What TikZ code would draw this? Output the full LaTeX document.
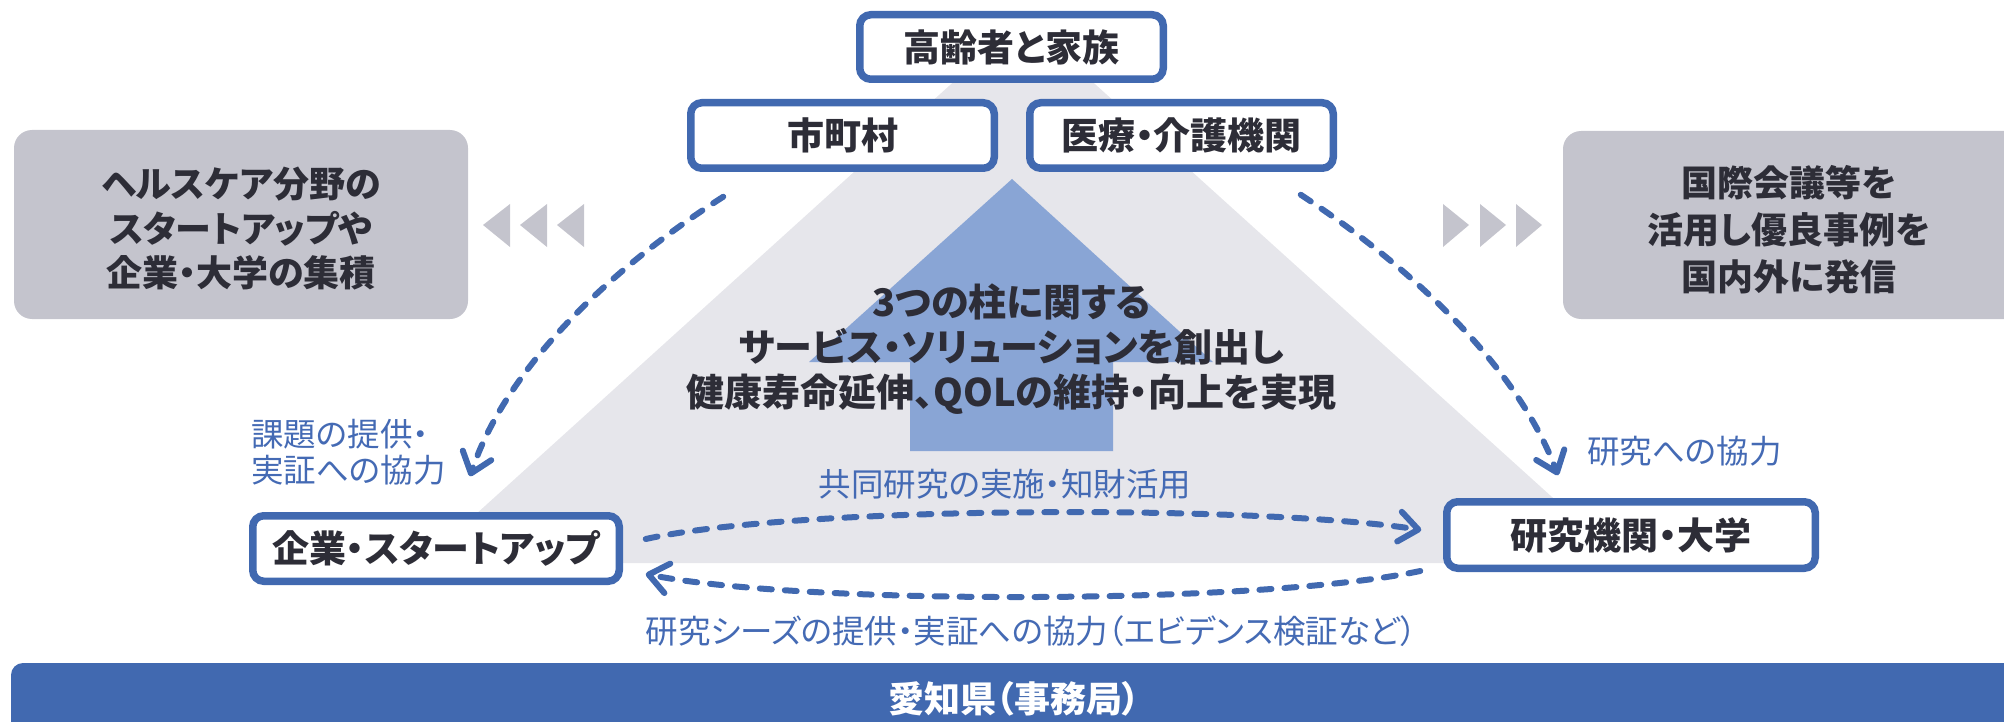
\documentclass[tikz,border=0pt]{standalone}
\usepackage{fontspec}
\setmainfont{Noto Sans CJK JP}[RawFeature=+palt]
\usetikzlibrary{arrows.meta}
\definecolor{myblue}{RGB}{65,105,176}
\definecolor{lblue}{RGB}{137,165,213}
\definecolor{tri}{RGB}{230,230,235}
\definecolor{greybox}{RGB}{196,196,205}
\definecolor{txt}{RGB}{45,45,55}
\definecolor{lab}{RGB}{68,106,180}
\begin{document}
\begin{tikzpicture}[x=1pt,y=-1pt,
  box/.style={draw=myblue, line width=7.5pt, fill=white, rounded corners=11pt, inner sep=0pt,
    font=\fontsize{37}{44}\selectfont\bfseries, text=txt},
  gbox/.style={fill=greybox, rounded corners=18pt, inner sep=0pt, align=center,
    font=\fontsize{36}{44}\selectfont\bfseries, text=txt},
  lbl/.style={text=lab, font=\fontsize{32.5}{36}\selectfont, inner sep=0pt},
  dsh/.style={draw=myblue, line width=6pt, line cap=round, dash pattern=on 12pt off 13pt,
    -{Straight Barb[length=19pt,width=30pt,line width=6pt,round]}},
  chev/.style={fill=greybox}
]
\useasboundingbox (0,0) rectangle (2004,722);
% background triangle
\fill[tri] (1023,19) -- (1625,563) -- (422,563) -- cycle;
% up arrow
\fill[lblue] (1012,179) -- (1213,362) -- (1113,362) -- (1113,451) -- (910,451) -- (910,362) -- (809,362) -- cycle;
\node[align=center, font=\fontsize{38}{45}\selectfont\bfseries, text=txt] (main) at (1011.5,349)
  {3つの柱に関する\\サービス・ソリューションを創出し\\健康寿命延伸、QOLの維持・向上を実現};
% boxes
\node[box, minimum width=303.5pt, minimum height=64.5pt] (top) at (1011.5,47) {高齢者と家族};
\node[box, minimum width=303.5pt, minimum height=65.5pt] (shi) at (842.5,135.5) {市町村};
\node[box, minimum width=303.5pt, minimum height=65.5pt] (iryo) at (1181.5,135.5) {医療・介護機関};
\node[box, minimum width=366.5pt, minimum height=65.5pt] (comp) at (436,548.5) {企業・スタートアップ};
\node[box, minimum width=368.5pt, minimum height=66.5pt] (ken) at (1631,535) {研究機関・大学};
% grey boxes
\node[gbox, minimum width=454pt, minimum height=189pt] (lg) at (241,224.5) {};
\node[align=center, font=\fontsize{36}{44.5}\selectfont\bfseries, text=txt] (lgt) at (241,229)
  {ヘルスケア分野の\\スタートアップや\\企業・大学の集積};
\node[gbox, minimum width=461pt, minimum height=188pt] (rg) at (1793.5,225) {};
\node[align=center, font=\fontsize{36}{47}\selectfont\bfseries, text=txt] (rgt) at (1789,230)
  {国際会議等を\\活用し優良事例を\\国内外に発信};
% chevrons
\foreach \i in {483,520,557} \fill[chev] (\i,225) -- (\i+27,204) -- (\i+27,247) -- cycle;
\foreach \i in {1443,1480,1516} \fill[chev] (\i,204) -- (\i+26,225) -- (\i,247) -- cycle;
% connector end points
\coordinate (as) at ([shift={(36.25,24.75)}]shi.south west);
\coordinate (ae) at ([shift={(34,-35.75)}]comp.north);
\coordinate (bs) at ([shift={(-36.25,22.75)}]iryo.south east);
\coordinate (be) at ([shift={(-73,-22.75)}]ken.north);
\coordinate (cs) at ([shift={(22.75,-9.5)}]comp.east);
\coordinate (ce) at ([shift={(-21.75,-5)}]ken.west);
\coordinate (ds) at ([shift={(-22.75,36)}]ken.west);
\coordinate (de) at ([shift={(22.75,25.5)}]comp.east);
\draw[dsh] (as) .. controls (607,271) and (506,369) .. (ae);
\draw[dsh] (bs) .. controls (1417,271) and (1518,369) .. (be);
\draw[dsh] (cs) .. controls (800,505) and (1260,505) .. (ce);
\draw[dsh] (ds) .. controls (1260,605) and (800,605) .. (de);
% labels
\node[lbl, align=left, anchor=west] (l1) at (251,452) {課題の提供・\\実証への協力};
\node[lbl, anchor=west] (l2) at (1587,451) {研究への協力};
\node[lbl] (l3) at (1005,484) {共同研究の実施・知財活用};
\node[lbl] (l4) at (1031,631) {研究シーズの提供・実証への協力（エビデンス検証など）};
% bottom bar
\fill[myblue, rounded corners=12pt] (11,663) rectangle (2040,760);
\node[text=white, font=\fontsize{36}{44}\selectfont\bfseries] (pref) at (1014,699) {愛知県（事務局）};
\end{tikzpicture}
\end{document}
